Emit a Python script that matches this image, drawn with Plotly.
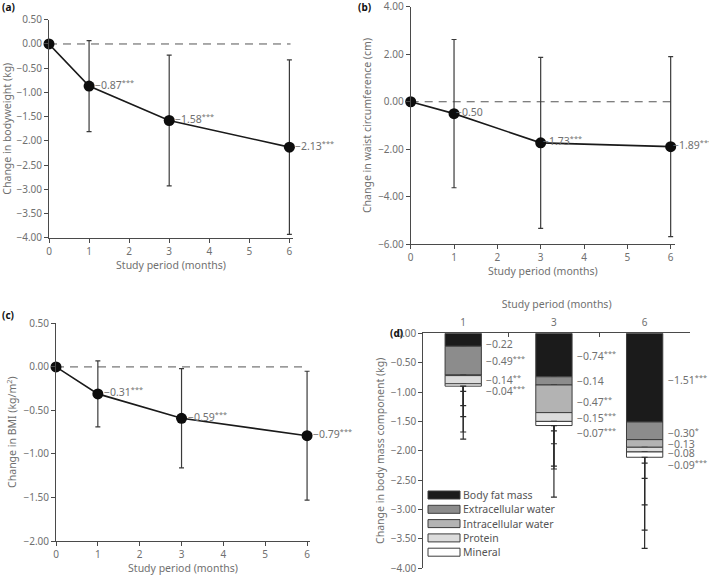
import plotly.graph_objects as go

# panel (a)/(b)/(c): mean change and SD at each visit
months = [0, 1, 3, 6]
bw_mean = [0.0, -0.87, -1.58, -2.13]
bw_sd = [0.0, 0.94, 1.35, 1.80]
bw_sig = ["", "***", "***", "***"]

waist_mean = [0.0, -0.50, -1.73, -1.89]
waist_sd = [0.0, 3.12, 3.60, 3.79]
waist_sig = ["", "", "***", "***"]

bmi_mean = [0.0, -0.31, -0.59, -0.79]
bmi_sd = [0.0, 0.38, 0.57, 0.74]
bmi_sig = ["", "***", "***", "***"]

# panel (d): body composition components
months_d = ["1", "3", "6"]
components = ["Body fat mass", "Extracellular water", "Intracellular water", "Protein", "Mineral"]
fat = [-0.22, -0.74, -1.51]
ecw = [-0.49, -0.14, -0.30]
icw = [-0.01, -0.47, -0.13]
protein = [-0.14, -0.15, -0.08]
mineral = [-0.04, -0.07, -0.09]
fat_sd = [1.01, 1.52, 2.15]
ecw_sd = [0.71, 1.00, 1.11]
icw_sd = [1.08, 1.44, 1.41]
protein_sd = [0.82, 0.81, 0.45]
mineral_sd = [0.09, 0.09, 0.10]
fat_sig = ["", "***", "***"]
ecw_sig = ["***", "", "*"]
icw_sig = [None, "**", ""]
protein_sig = ["**", "***", ""]
mineral_sig = ["***", "***", "***"]

comp_colors = ["#1b1b1b", "#8c8c8c", "#b3b3b3", "#dcdcdc", "#ffffff"]
# where the value labels sit next to each bar (kg)
label_y = [
    [-0.19, -0.38, -0.78],
    [-0.47, -0.81, -1.69],
    [None, -1.16, -1.88],
    [-0.78, -1.44, -2.03],
    [-0.98, -1.69, -2.24],
]

W, H = 709, 576
FONT = "Noto Sans"
GREY = "#707070"
AX = "#4a4a4a"
FS = 10


def fmt(v):
    return f"{v:.2f}".replace("-", "\u2212")


fig = go.Figure()


# Line panels with error bars
def add_line_panel(xa, ya, mean, sd, sig, xshift):
    fig.add_trace(go.Scatter(
        x=months, y=mean, xaxis=xa, yaxis=ya, mode="lines+markers",
        line=dict(color="#1a1a1a", width=1.6),
        marker=dict(color="#0d0d0d", size=11),
        error_y=dict(type="data", array=sd, visible=True, color="#3a3a3a", thickness=1.2, width=2.5),
        cliponaxis=False, showlegend=False))
    for m, v, s in zip(months[1:], mean[1:], sig[1:]):
        t = fmt(v) + (f"<sup>{s}</sup>" if s else "")
        fig.add_annotation(x=m, y=v, xref=xa, yref=ya, text=t, showarrow=False,
                           xanchor="left", yanchor="middle", xshift=xshift, yshift=2,
                           font=dict(family=FONT, size=FS + 0.5, color=GREY))
    fig.add_shape(type="line", xref=f"{xa} domain", yref=ya, x0=0, x1=0.99, y0=0, y1=0,
                  line=dict(color="#555555", width=1, dash="8px,6px"), layer="below")


add_line_panel("x", "y", bw_mean, bw_sd, bw_sig, 4)
add_line_panel("x2", "y2", waist_mean, waist_sd, waist_sig, 0)
add_line_panel("x3", "y3", bmi_mean, bmi_sd, bmi_sig, 4)

# Stacked bar panel
comp_vals = [fat, ecw, icw, protein, mineral]
comp_sd = [fat_sd, ecw_sd, icw_sd, protein_sd, mineral_sd]
comp_sig = [fat_sig, ecw_sig, icw_sig, protein_sig, mineral_sig]
for name, vals, sds, col in zip(components, comp_vals, comp_sd, comp_colors):
    fig.add_trace(go.Bar(
        x=months_d, y=vals, xaxis="x4", yaxis="y4", name=name, width=0.4,
        marker=dict(color=col, line=dict(color="#3c3c3c", width=1)),
        error_y=dict(type="data", symmetric=False, array=[0, 0, 0], arrayminus=sds,
                     color="#2a2a2a", thickness=1.2, width=3),
        showlegend=False))

for vals, sigs, ly in zip(comp_vals, comp_sig, label_y):
    for i, (v, s, y) in enumerate(zip(vals, sigs, ly)):
        if s is None:
            continue
        t = fmt(v) + (f"<sup>{s}</sup>" if s else "")
        # category axes take the category index here
        fig.add_annotation(x=i, y=y, xref="x4", yref="y4", text=t, showarrow=False,
                           xanchor="left", yanchor="middle", xshift=21,
                           font=dict(family=FONT, size=FS + 0.5, color=GREY))

# hand-drawn legend for panel (d)
for i, (name, col) in enumerate(zip(components, comp_colors)):
    yc = 495 + i * 14.3
    fig.add_shape(type="rect", xref="paper", yref="paper",
                  x0=428 / W, x1=460 / W, y0=1 - (yc + 4) / H, y1=1 - (yc - 4) / H,
                  fillcolor=col, line=dict(color="#3c3c3c", width=1))
    fig.add_annotation(x=461 / W, y=1 - yc / H, xref="paper", yref="paper", text=name,
                       showarrow=False, xanchor="left", yanchor="middle",
                       font=dict(family=FONT, size=FS + 0.5, color="#555555"))

# panel letters
for lab, px, py in [("(a)", 0, 7), ("(b)", 356, 7), ("(c)", 0, 315), ("(d)", 388, 333)]:
    fig.add_annotation(x=px / W, y=1 - py / H, xref="paper", yref="paper", text=f"<b>{lab}</b>",
                       showarrow=False, xanchor="left", yanchor="middle",
                       font=dict(family=FONT, size=FS, color="#111111"))

tickfont = dict(family=FONT, size=FS, color=GREY)
titlefont = dict(family=FONT, size=FS + 0.5, color=GREY)


def xax(domain, rng, anchor):
    return dict(domain=domain, range=rng, anchor=anchor, tickmode="array", tickvals=list(range(7)),
                showline=True, linecolor=AX, linewidth=1, ticks="outside", ticklen=4, tickcolor=AX,
                showgrid=False, zeroline=False, tickfont=tickfont, automargin=False,
                ticklabeloverflow="allow",
                title=dict(text="Study period (months)", font=titlefont, standoff=4))


def yax(domain, rng, dtick, title, anchor):
    return dict(domain=domain, range=rng, anchor=anchor, dtick=dtick, tick0=0, tickformat=".2f",
                showline=True, linecolor=AX, linewidth=1, ticks="outside", ticklen=4, tickcolor=AX,
                showgrid=False, zeroline=False, tickfont=tickfont, automargin=False,
                ticklabeloverflow="allow",
                title=dict(text=title, font=titlefont, standoff=4))


fig.update_layout(
    width=W, height=H, margin=dict(l=0, r=0, t=0, b=0, autoexpand=False),
    paper_bgcolor="white", plot_bgcolor="white", barmode="relative",
    font=dict(family=FONT),
    xaxis=xax([49 / W, 293 / W], [0, 6.09], "y"),
    yaxis=yax([1 - 237.7 / H, 1 - 19.7 / H], [-4, 0.501], 0.5, "Change in bodyweight (kg)", "x"),
    xaxis2=xax([410.7 / W, 675 / W], [0, 6.1], "y2"),
    yaxis2=yax([1 - 244.3 / H, 1 - 6.7 / H], [-6, 4.001], 2, "Change in waist circumference (cm)", "x2"),
    xaxis3=xax([56 / W, 310 / W], [0, 6.07], "y3"),
    yaxis3=yax([1 - 541 / H, 1 - 323.3 / H], [-2, 0.501], 0.5, "Change in BMI (kg/m<sup>2</sup>)", "x3"),
    xaxis4=dict(domain=[423.3 / W, 690 / W], range=[-0.44, 2.5], anchor="y4", side="top",
                type="category", showline=True, linecolor=AX, linewidth=1, ticks="inside",
                tickson="boundaries", ticklen=4, tickcolor=AX, showgrid=False, zeroline=False,
                ticklabelstandoff=2, automargin=False, ticklabeloverflow="allow",
                tickfont=tickfont, title=dict(text="Study period (months)", font=titlefont, standoff=4)),
    yaxis4=yax([1 - 568.3 / H, 1 - 333.3 / H], [-4, 0], 0.5, "Change in body mass component (kg)", "x4"),
)

# the page body has a default 8px margin; drop it so the figure fills the window
fig.write_html("out.html", config={"displayModeBar": False},
               post_script="document.body.style.margin='0';")
